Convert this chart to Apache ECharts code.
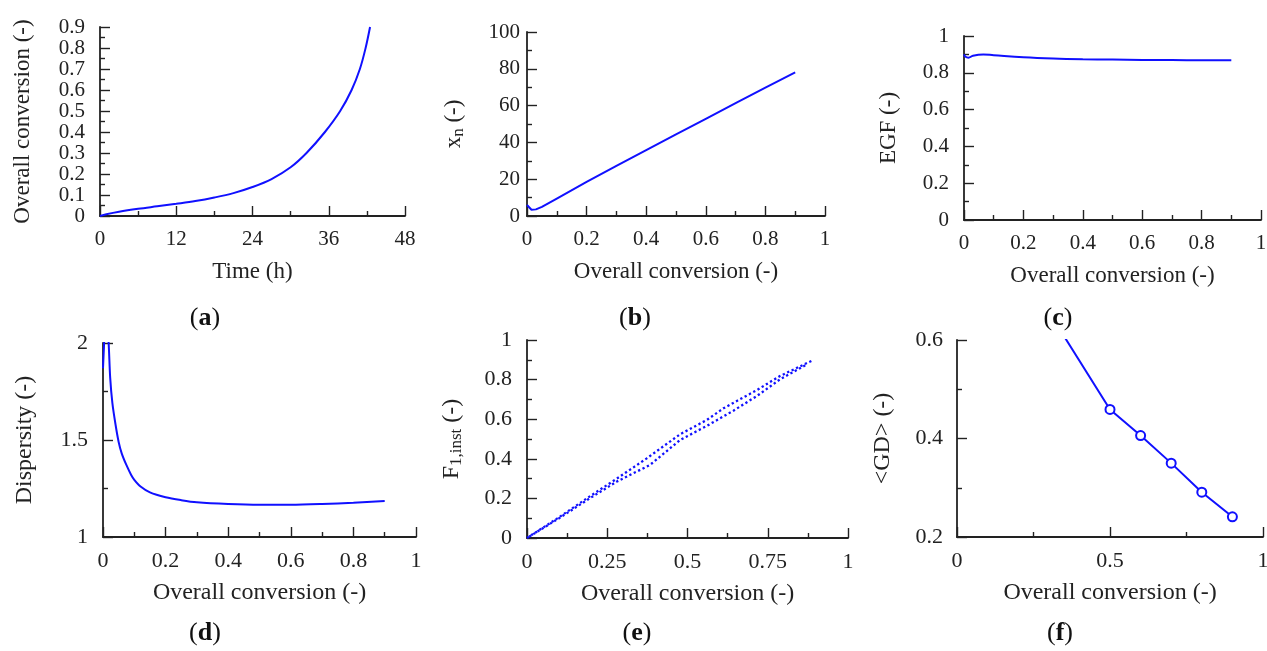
<!DOCTYPE html>
<html>
<head>
<meta charset="utf-8">
<script src="https://cdn.jsdelivr.net/npm/echarts@6/dist/echarts.min.js"></script>
<style>
html,body{margin:0;padding:0;background:#fff;}
#chart{width:1267px;height:651px;}
</style>
</head>
<body>
<div id="chart"></div>
<script>
// (a) Overall conversion vs time
const timeA = [0, 1, 3, 6, 9, 12, 15, 18, 21, 24, 27, 30, 32.5, 35.4, 37.8, 39.6, 40.9, 41.8, 42.5];
const convA = [0, 0.008, 0.02, 0.034, 0.046, 0.058, 0.071, 0.088, 0.109, 0.138, 0.176, 0.232, 0.3, 0.4, 0.5, 0.6, 0.7, 0.8, 0.9];
// (b) xn vs overall conversion
const convB = [0, 0.005, 0.015, 0.03, 0.05, 0.1, 0.2, 0.3, 0.4, 0.5, 0.6, 0.7, 0.8, 0.9];
const xnB = [6, 5, 3.4, 3.6, 5, 9.5, 18.5, 27.2, 35.8, 44.3, 52.8, 61.3, 69.8, 78];
// (c) EGF vs overall conversion
const convC = [0, 0.005, 0.015, 0.03, 0.065, 0.1, 0.2, 0.3, 0.4, 0.5, 0.6, 0.7, 0.8, 0.9];
const egfC = [0.9, 0.887, 0.882, 0.893, 0.9, 0.896, 0.885, 0.878, 0.874, 0.872, 0.87, 0.869, 0.868, 0.868];
// (d) Dispersity vs overall conversion
const convD = [0, 0.003, 0.008, 0.013, 0.018, 0.023, 0.03, 0.04, 0.05, 0.06, 0.075, 0.09, 0.1, 0.12, 0.15, 0.2, 0.25, 0.3, 0.4, 0.5, 0.6, 0.7, 0.8, 0.9];
const dispD = [1.87, 1.98, 2.15, 2.1, 2.0, 1.82, 1.69, 1.58, 1.49, 1.43, 1.37, 1.32, 1.295, 1.26, 1.23, 1.205, 1.19, 1.179, 1.17, 1.166, 1.166, 1.17, 1.177, 1.186];
// (e) F1,inst vs overall conversion (two interleaved dotted bands)
const convEUpper = [0, 0.1, 0.2, 0.28, 0.373, 0.477, 0.56, 0.612, 0.716, 0.788, 0.892];
const f1EUpper = [0, 0.105, 0.215, 0.3, 0.402, 0.524, 0.596, 0.655, 0.747, 0.818, 0.899];
const convELower = [0, 0.1, 0.2, 0.28, 0.383, 0.477, 0.56, 0.643, 0.716, 0.788, 0.87];
const f1ELower = [0, 0.1, 0.205, 0.285, 0.369, 0.495, 0.566, 0.643, 0.717, 0.801, 0.875];
// (f) <GD> vs overall conversion
const convF = [0.3, 0.5, 0.6, 0.7, 0.8, 0.9];
const gdF = [0.657, 0.459, 0.406, 0.35, 0.291, 0.241];
const markedF = [false, true, true, true, true, true];

const panelLabels = ['a', 'b', 'c', 'd', 'e', 'f'];

const FONT = 'Liberation Serif';
const TXT = '#222';
const BLUE = '#1010ff';

function zip(xs, ys) { return xs.map((x, i) => [x, ys[i]]); }

const chart = echarts.init(document.getElementById('chart'), null, {renderer: 'canvas'});

const grids = [
  {left: 100, top: 27, width: 305, height: 189},
  {left: 527, top: 32, width: 298, height: 184},
  {left: 964, top: 36, width: 297, height: 184},
  {left: 103, top: 343, width: 313, height: 194},
  {left: 527, top: 340, width: 321, height: 198},
  {left: 957, top: 340, width: 306, height: 197}
].map(g => Object.assign({outerBoundsMode: 'none', containLabel: false}, g));

function axisCommon(fs, nfs) {
  return {
    axisLine: {show: true, onZero: false, lineStyle: {color: '#222', width: 1.8}},
    axisTick: {show: true, inside: true, length: 10, lineStyle: {color: '#222', width: 1.4}},
    minorTick: {show: true, splitNumber: 2, length: 5, lineStyle: {color: '#222', width: 1.4}},
    splitLine: {show: false},
    axisLabel: {color: TXT, fontFamily: FONT, fontSize: fs, margin: 13},
    nameTextStyle: {color: TXT, fontFamily: FONT, fontSize: nfs,
      rich: {
        m: {fontFamily: FONT, fontSize: nfs, color: TXT, lineHeight: 26},
        sub: {fontFamily: FONT, fontSize: Math.round(nfs * 0.72), color: TXT, verticalAlign: 'bottom', lineHeight: 8}
      }}
  };
}

function xAxis(gi, min, max, interval, name, fs, nfs) {
  return Object.assign(axisCommon(fs, nfs), {
    type: 'value', gridIndex: gi, min, max, interval,
    name, nameLocation: 'middle', nameGap: 44
  });
}
function yAxis(gi, min, max, interval, name, gap, fs, nfs, lm) {
  return Object.assign(axisCommon(fs, nfs), {
    type: 'value', gridIndex: gi, min, max, interval,
    name, nameLocation: 'middle', nameGap: gap,
    axisLabel: {color: TXT, fontFamily: FONT, fontSize: fs, margin: lm}
  });
}

const FS1 = 21, FS2 = 22, NF1 = 23, NF2 = 24;
const xAxes = [
  xAxis(0, 0, 48, 12, 'Time (h)', FS1, NF1),
  xAxis(1, 0, 1, 0.2, 'Overall conversion (-)', FS1, NF1),
  xAxis(2, 0, 1, 0.2, 'Overall conversion (-)', FS1, NF1),
  xAxis(3, 0, 1, 0.2, 'Overall conversion (-)', FS2, NF2),
  xAxis(4, 0, 1, 0.25, 'Overall conversion (-)', FS2, NF2),
  xAxis(5, 0, 1, 0.5, 'Overall conversion (-)', FS2, NF2)
];
const yAxes = [
  yAxis(0, 0, 0.9, 0.1, 'Overall conversion (-)', 66, FS1, NF1, 15),
  yAxis(1, 0, 100, 20, '{m|x}{sub|n}{m| (-)}', 60, FS1, NF1, 7),
  yAxis(2, 0, 1, 0.2, 'EGF (-)', 64, FS1, NF1, 15),
  yAxis(3, 1, 2, 0.5, 'Dispersity (-)', 66, FS2, NF2, 15),
  yAxis(4, 0, 1, 0.2, '{m|F}{sub|1,inst}{m| (-)}', 62, FS2, NF2, 15),
  yAxis(5, 0.2, 0.6, 0.2, '<GD> (-)', 62, FS2, NF2, 14)
];

const lineBase = {type: 'line', showSymbol: false, symbol: 'none', clip: true,
  lineStyle: {color: BLUE, width: 2}, itemStyle: {color: BLUE}};

const dotStyle = {color: BLUE, width: 2.3, type: [2.3, 2.6], cap: 'butt'};

const series = [
  Object.assign({}, lineBase, {xAxisIndex: 0, yAxisIndex: 0, smooth: 0.35, data: zip(timeA, convA)}),
  Object.assign({}, lineBase, {xAxisIndex: 1, yAxisIndex: 1, smooth: false, data: zip(convB, xnB)}),
  Object.assign({}, lineBase, {xAxisIndex: 2, yAxisIndex: 2, smooth: 0.4, data: zip(convC, egfC)}),
  Object.assign({}, lineBase, {xAxisIndex: 3, yAxisIndex: 3, smooth: 0.3, data: zip(convD, dispD)}),
  Object.assign({}, lineBase, {xAxisIndex: 4, yAxisIndex: 4, smooth: false,
    lineStyle: dotStyle, data: zip(convEUpper, f1EUpper)}),
  Object.assign({}, lineBase, {xAxisIndex: 4, yAxisIndex: 4, smooth: false,
    lineStyle: Object.assign({}, dotStyle, {dashOffset: 2.4}), data: zip(convELower, f1ELower)}),
  {type: 'line', xAxisIndex: 5, yAxisIndex: 5, clip: true, showSymbol: true, symbol: 'circle', symbolSize: 9,
    lineStyle: {color: BLUE, width: 2},
    itemStyle: {color: '#fff', borderColor: BLUE, borderWidth: 2},
    data: convF.map((x, i) => markedF[i] ? [x, gdF[i]] : {value: [x, gdF[i]], symbol: 'none'})}
];

const labelPos = [[205, 318], [635, 318], [1058, 318], [205, 633], [637, 633], [1060, 633]];
const graphic = panelLabels.map((l, i) => ({
  type: 'text', x: labelPos[i][0], y: labelPos[i][1], z: 10,
  style: {
    text: '({b|' + l + '})', align: 'center', verticalAlign: 'middle',
    fontFamily: FONT, fontSize: 26, fill: '#111',
    rich: {b: {fontFamily: FONT, fontSize: 26, fontWeight: 'bold', fill: '#111'}}
  }
}));

chart.setOption({
  animation: false,
  backgroundColor: '#fff',
  grid: grids,
  xAxis: xAxes,
  yAxis: yAxes,
  series,
  graphic
});
</script>
</body>
</html>
